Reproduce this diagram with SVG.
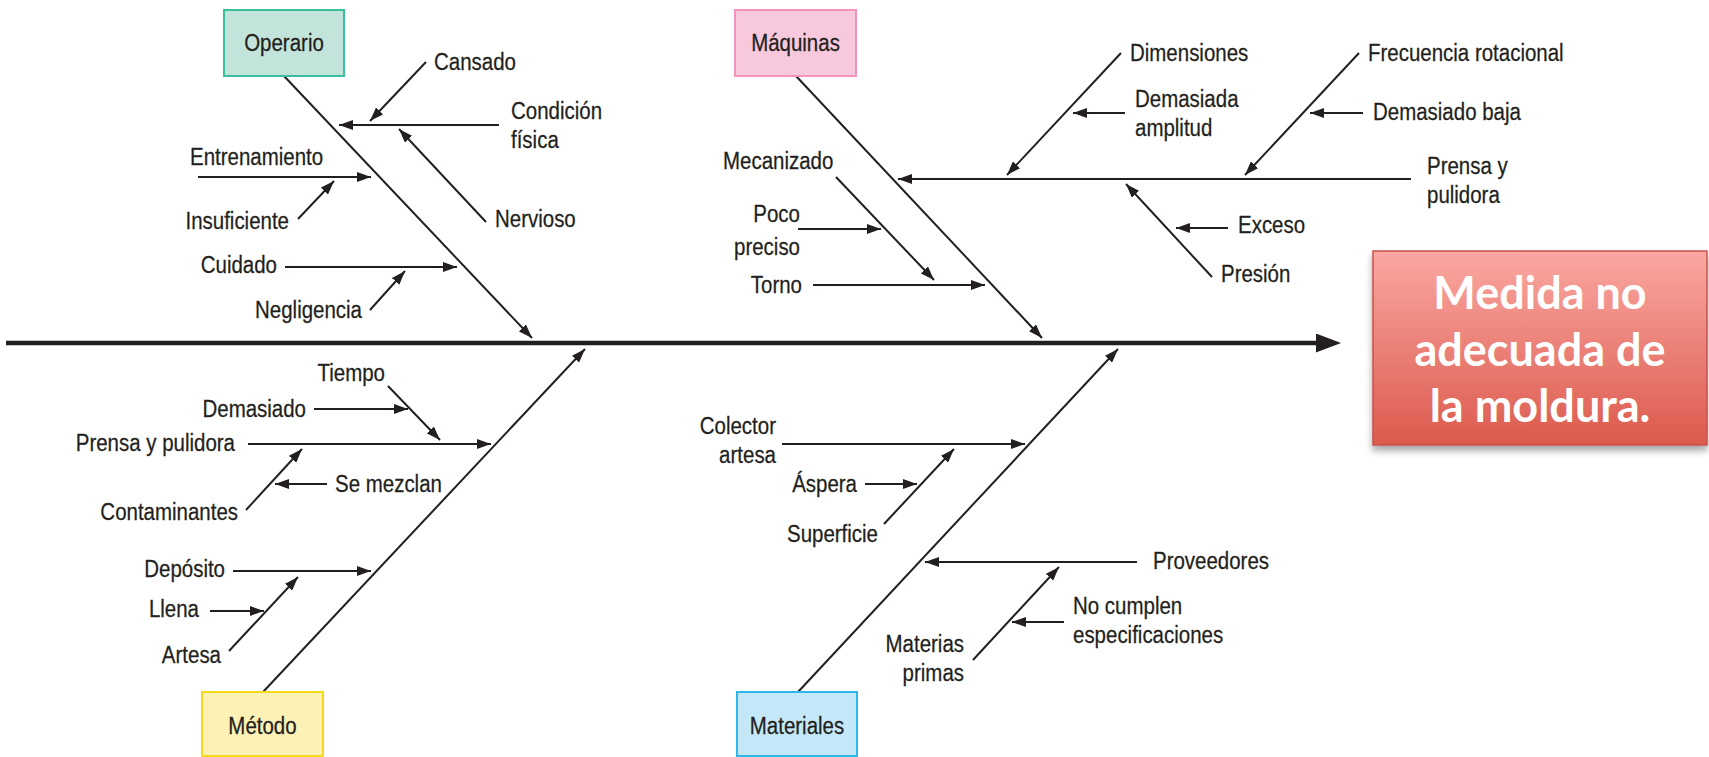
<svg xmlns="http://www.w3.org/2000/svg" width="1709" height="757" viewBox="0 0 1709 757">
<style>
.t{font-family:"Liberation Sans",Arial,sans-serif;font-size:23px;fill:#231f20;stroke:#231f20;stroke-width:0.25}
.e{text-anchor:end}
.m{text-anchor:middle}
.c line{stroke:#231f20;stroke-width:2;fill:none;marker-end:url(#ah)}
.c line.spine{stroke-width:4.5;marker-end:url(#ahBig)}
.box{stroke-width:2}
.eff{font-family:Lato,"Open Sans","Liberation Sans",sans-serif;font-weight:bold;font-size:45px;fill:#ffffff;text-anchor:middle}
</style>
<defs>
<marker id="ah" markerUnits="userSpaceOnUse" markerWidth="14" markerHeight="10" refX="14" refY="5" orient="auto" viewBox="0 0 14 10"><path d="M0,0 L14,5 L0,10 Z" fill="#231f20"/></marker>
<marker id="ahBig" markerUnits="userSpaceOnUse" markerWidth="25" markerHeight="19" refX="9" refY="9.5" orient="auto" viewBox="0 0 25 19"><path d="M0,0 L25,9.5 L0,19 Z" fill="#231f20"/></marker>
<linearGradient id="gEff" x1="0" y1="0" x2="0" y2="1"><stop offset="0" stop-color="#faa8a2"/><stop offset="1" stop-color="#dc5a4d"/></linearGradient>
<filter id="sh" x="-10%" y="-10%" width="120%" height="130%"><feDropShadow dx="0" dy="5" stdDeviation="3.5" flood-color="#000" flood-opacity="0.35"/></filter>
</defs>
<rect width="1709" height="757" fill="#ffffff"/>

<g id="connectors" class="c">
<line class="spine" x1="6" y1="343" x2="1325" y2="343"/>
<!-- Operario -->
<line x1="284" y1="76" x2="532" y2="338"/>
<line x1="426" y1="62" x2="370" y2="121"/>
<line x1="499" y1="125" x2="339" y2="125"/>
<line x1="486" y1="222" x2="399" y2="129"/>
<line x1="198" y1="177" x2="371" y2="177"/>
<line x1="298" y1="219" x2="334" y2="181"/>
<line x1="285" y1="267" x2="457" y2="267"/>
<line x1="370" y1="310" x2="405" y2="271"/>
<!-- Maquinas -->
<line x1="796" y1="76" x2="1042" y2="338"/>
<line x1="836" y1="177" x2="934" y2="280"/>
<line x1="798" y1="229" x2="881" y2="229"/>
<line x1="813" y1="285" x2="985" y2="285"/>
<line x1="1411" y1="179" x2="898" y2="179"/>
<line x1="1121" y1="53" x2="1007" y2="175"/>
<line x1="1125" y1="113" x2="1073" y2="113"/>
<line x1="1359" y1="53" x2="1245" y2="175"/>
<line x1="1363" y1="113" x2="1310" y2="113"/>
<line x1="1212" y1="277" x2="1126" y2="184"/>
<line x1="1228" y1="228" x2="1176" y2="228"/>
<!-- Metodo -->
<line x1="263" y1="692" x2="585" y2="349"/>
<line x1="388" y1="386" x2="440" y2="440"/>
<line x1="314" y1="409" x2="408" y2="409"/>
<line x1="248" y1="444" x2="491" y2="444"/>
<line x1="246" y1="510" x2="302" y2="449"/>
<line x1="327" y1="484" x2="275" y2="484"/>
<line x1="233" y1="571" x2="371" y2="571"/>
<line x1="210" y1="611" x2="264" y2="611"/>
<line x1="229" y1="651" x2="298" y2="577"/>
<!-- Materiales -->
<line x1="798" y1="692" x2="1118" y2="349"/>
<line x1="782" y1="444" x2="1025" y2="444"/>
<line x1="865" y1="484" x2="917" y2="484"/>
<line x1="884" y1="524" x2="954" y2="449"/>
<line x1="1137" y1="562" x2="925" y2="562"/>
<line x1="973" y1="660" x2="1059" y2="567"/>
<line x1="1064" y1="622" x2="1012" y2="622"/>
</g>

<g id="operario">
<rect class="box" x="224" y="10" width="120" height="66" fill="#c2e4da" stroke="#38bf9e"/>
<text class="t m" transform="translate(284 51) scale(0.89 1)">Operario</text>
</g>
<g id="operario-causas">
<text class="t" transform="translate(434 70) scale(0.89 1)">Cansado</text>
<text class="t" transform="translate(511 119) scale(0.89 1)">Condición</text>
<text class="t" transform="translate(511 148) scale(0.89 1)">física</text>
<text class="t" transform="translate(495 227) scale(0.89 1)">Nervioso</text>
<text class="t" transform="translate(190 165) scale(0.89 1)">Entrenamiento</text>
<text class="t e" transform="translate(289 229) scale(0.89 1)">Insuficiente</text>
<text class="t e" transform="translate(277 273) scale(0.89 1)">Cuidado</text>
<text class="t e" transform="translate(362 318) scale(0.89 1)">Negligencia</text>
</g>

<g id="maquinas">
<rect class="box" x="735" y="10" width="121" height="66" fill="#f8c9dd" stroke="#f294be"/>
<text class="t m" transform="translate(795.5 51) scale(0.89 1)">Máquinas</text>
</g>
<g id="maquinas-causas">
<text class="t" transform="translate(723 169) scale(0.89 1)">Mecanizado</text>
<text class="t e" transform="translate(800 222) scale(0.89 1)">Poco</text>
<text class="t e" transform="translate(800 255) scale(0.89 1)">preciso</text>
<text class="t e" transform="translate(802 293) scale(0.89 1)">Torno</text>
<text class="t" transform="translate(1427 174) scale(0.89 1)">Prensa y</text>
<text class="t" transform="translate(1427 203) scale(0.89 1)">pulidora</text>
<text class="t" transform="translate(1130 61) scale(0.89 1)">Dimensiones</text>
<text class="t" transform="translate(1135 107) scale(0.89 1)">Demasiada</text>
<text class="t" transform="translate(1135 136) scale(0.89 1)">amplitud</text>
<text class="t" transform="translate(1368 61) scale(0.89 1)">Frecuencia rotacional</text>
<text class="t" transform="translate(1373 120) scale(0.89 1)">Demasiado baja</text>
<text class="t" transform="translate(1221 282) scale(0.89 1)">Presión</text>
<text class="t" transform="translate(1238 233) scale(0.89 1)">Exceso</text>
</g>

<g id="metodo">
<rect class="box" x="202" y="692" width="121" height="64" fill="#fdf1b6" stroke="#f5da1c"/>
<text class="t m" transform="translate(262.5 734) scale(0.89 1)">Método</text>
</g>
<g id="metodo-causas">
<text class="t e" transform="translate(385 381) scale(0.89 1)">Tiempo</text>
<text class="t e" transform="translate(306 417) scale(0.89 1)">Demasiado</text>
<text class="t e" transform="translate(235 451) scale(0.89 1)">Prensa y pulidora</text>
<text class="t e" transform="translate(238 520) scale(0.89 1)">Contaminantes</text>
<text class="t" transform="translate(335 492) scale(0.89 1)">Se mezclan</text>
<text class="t e" transform="translate(225 577) scale(0.89 1)">Depósito</text>
<text class="t e" transform="translate(199 617) scale(0.89 1)">Llena</text>
<text class="t e" transform="translate(221 663) scale(0.89 1)">Artesa</text>
</g>

<g id="materiales">
<rect class="box" x="737" y="692" width="120" height="64" fill="#c4e8f7" stroke="#2eb7ea"/>
<text class="t m" transform="translate(797 734) scale(0.89 1)">Materiales</text>
</g>
<g id="materiales-causas">
<text class="t e" transform="translate(776 434) scale(0.89 1)">Colector</text>
<text class="t e" transform="translate(776 463) scale(0.89 1)">artesa</text>
<text class="t e" transform="translate(857 492) scale(0.89 1)">Áspera</text>
<text class="t e" transform="translate(878 542) scale(0.89 1)">Superficie</text>
<text class="t" transform="translate(1153 569) scale(0.89 1)">Proveedores</text>
<text class="t e" transform="translate(964 652) scale(0.89 1)">Materias</text>
<text class="t e" transform="translate(964 681) scale(0.89 1)">primas</text>
<text class="t" transform="translate(1073 614) scale(0.89 1)">No cumplen</text>
<text class="t" transform="translate(1073 643) scale(0.89 1)">especificaciones</text>
</g>

<g id="efecto">
<rect x="1373" y="251" width="334" height="194" fill="url(#gEff)" stroke="#c9524c" stroke-width="1.5" filter="url(#sh)"/>
<text class="eff" x="1540" y="309">Medida no</text>
<text class="eff" x="1540" y="366">adecuada de</text>
<text class="eff" x="1540" y="422">la moldura.</text>
</g>
</svg>
